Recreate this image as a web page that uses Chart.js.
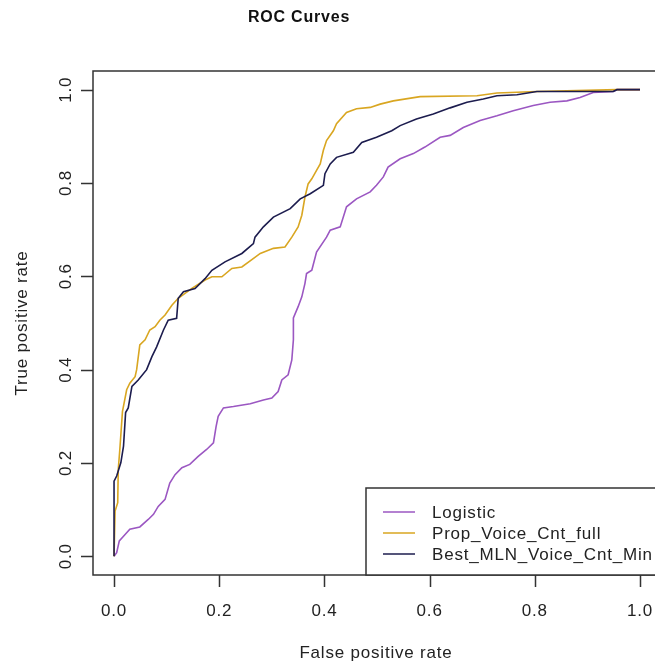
<!DOCTYPE html>
<html>
<head>
<meta charset="utf-8">
<script src="https://cdn.jsdelivr.net/npm/chart.js@4.4.0/dist/chart.umd.min.js"></script>
<style>
  html, body { margin: 0; padding: 0; background: #fff; }
  #wrap { width: 655px; height: 665px; }
</style>
</head>
<body>
<div id="wrap"><canvas id="rocChart" width="655" height="665"></canvas></div>
<script>
/* ROC curves, R base-graphics look */
const seriesNames = ['Logistic', 'Prop_Voice_Cnt_full', 'Best_MLN_Voice_Cnt_Min'];
const seriesColors = ['#9b57c2', '#d9a621', '#1c1c4e'];

const logisticFpr = [0, 0.005, 0.010, 0.018, 0.030, 0.049, 0.065, 0.075, 0.084, 0.097, 0.106, 0.116, 0.129, 0.144, 0.160,
  0.176, 0.189, 0.194, 0.198, 0.208, 0.227, 0.259, 0.284, 0.300, 0.312, 0.319, 0.331, 0.338, 0.341, 0.341, 0.350,
  0.357, 0.363, 0.366, 0.376, 0.385, 0.404, 0.411, 0.430, 0.442, 0.461, 0.487, 0.499, 0.512, 0.521, 0.544, 0.569,
  0.591, 0.620, 0.639, 0.664, 0.696, 0.728, 0.759, 0.797, 0.829, 0.861, 0.886, 0.911, 0.949, 0.956, 1.0];
const logisticTpr = [0, 0.008, 0.033, 0.043, 0.058, 0.063, 0.079, 0.090, 0.107, 0.122, 0.157, 0.175, 0.190, 0.197, 0.214,
  0.229, 0.243, 0.278, 0.300, 0.318, 0.321, 0.327, 0.335, 0.339, 0.353, 0.378, 0.389, 0.421, 0.464, 0.511, 0.535,
  0.556, 0.585, 0.606, 0.613, 0.652, 0.684, 0.699, 0.706, 0.749, 0.766, 0.781, 0.795, 0.813, 0.834, 0.852, 0.863,
  0.877, 0.898, 0.902, 0.919, 0.934, 0.944, 0.955, 0.966, 0.973, 0.976, 0.983, 0.994, 0.996, 1.0, 1.0];

const propFpr = [0, 0.002, 0.007, 0.008, 0.011, 0.016, 0.024, 0.030, 0.040, 0.043, 0.049, 0.059, 0.068, 0.078, 0.087,
  0.097, 0.110, 0.122, 0.148, 0.173, 0.186, 0.205, 0.224, 0.243, 0.262, 0.278, 0.303, 0.325, 0.338, 0.350, 0.357,
  0.363, 0.369, 0.376, 0.385, 0.392, 0.398, 0.404, 0.417, 0.423, 0.442, 0.461, 0.487, 0.506, 0.531, 0.582, 0.690,
  0.728, 0.804, 0.956, 1.0];
const propTpr = [0, 0.097, 0.115, 0.186, 0.229, 0.310, 0.357, 0.371, 0.385, 0.400, 0.453, 0.464, 0.485, 0.492, 0.506,
  0.517, 0.538, 0.553, 0.574, 0.592, 0.599, 0.599, 0.617, 0.620, 0.636, 0.649, 0.660, 0.663, 0.684, 0.706, 0.731,
  0.770, 0.798, 0.809, 0.827, 0.841, 0.870, 0.891, 0.912, 0.927, 0.951, 0.959, 0.962, 0.969, 0.976, 0.985, 0.987,
  0.993, 0.996, 1.0, 1.0];

const mlnFpr = [0, 0, 0.005, 0.013, 0.018, 0.022, 0.027, 0.034, 0.046, 0.062, 0.072, 0.081, 0.094, 0.103, 0.119,
  0.122, 0.132, 0.154, 0.173, 0.186, 0.211, 0.243, 0.265, 0.268, 0.284, 0.303, 0.335, 0.354, 0.373, 0.398, 0.401,
  0.411, 0.423, 0.455, 0.471, 0.499, 0.528, 0.544, 0.575, 0.607, 0.639, 0.671, 0.702, 0.728, 0.766, 0.804, 0.949,
  0.956, 1.0];
const mlnTpr = [0, 0.161, 0.172, 0.201, 0.236, 0.308, 0.318, 0.364, 0.378, 0.400, 0.428, 0.449, 0.485, 0.506, 0.510,
  0.553, 0.567, 0.574, 0.595, 0.613, 0.631, 0.649, 0.670, 0.684, 0.706, 0.727, 0.745, 0.766, 0.777, 0.795, 0.820,
  0.841, 0.855, 0.866, 0.887, 0.898, 0.912, 0.923, 0.937, 0.948, 0.961, 0.973, 0.980, 0.987, 0.989, 0.996, 0.996,
  1.0, 1.0];

const xTicks = [0, 0.2, 0.4, 0.6, 0.8, 1.0];
const yTicks = [0, 0.2, 0.4, 0.6, 0.8, 1.0];
const titleText = 'ROC Curves';
const xTitle = 'False positive rate';
const yTitle = 'True positive rate';

const FONT = "17px 'Liberation Sans', Arial, sans-serif";

function pts(xs, ys) { return xs.map((x, i) => ({ x: x, y: ys[i] })); }

// draws the R style frame, ticks, labels and legend on top of the chart
const rFrame = {
  id: 'rFrame',
  afterDraw(chart) {
    const ctx = chart.ctx, a = chart.chartArea;
    const xs = chart.scales.x, ys = chart.scales.y;
    ctx.save();
    ctx.strokeStyle = '#333';
    ctx.lineWidth = 1.5;
    ctx.strokeRect(a.left, a.top, a.right - a.left + 10, a.bottom - a.top);

    ctx.fillStyle = '#222';
    ctx.font = FONT;
    ctx.letterSpacing = '0.8px';
    ctx.textAlign = 'center';
    ctx.textBaseline = 'middle';

    ctx.beginPath();
    xTicks.forEach(v => {
      const px = Math.round(xs.getPixelForValue(v)) + 0.5;
      ctx.moveTo(px, a.bottom); ctx.lineTo(px, a.bottom + 12);
    });
    yTicks.forEach(v => {
      const py = Math.round(ys.getPixelForValue(v)) + 0.5;
      ctx.moveTo(a.left, py); ctx.lineTo(a.left - 12, py);
    });
    ctx.stroke();

    xTicks.forEach(v => ctx.fillText(v.toFixed(1), xs.getPixelForValue(v), 611));
    yTicks.forEach(v => {
      ctx.save();
      ctx.translate(66, ys.getPixelForValue(v));
      ctx.rotate(-Math.PI / 2);
      ctx.fillText(v.toFixed(1), 0, 0);
      ctx.restore();
    });

    ctx.fillText(xTitle, 376, 653);
    ctx.save();
    ctx.translate(22, (a.top + a.bottom) / 2);
    ctx.rotate(-Math.PI / 2);
    ctx.fillText(yTitle, 0, 0);
    ctx.restore();

    ctx.font = "bold 16px 'Liberation Sans', Arial, sans-serif";
    ctx.fillStyle = '#111';
    ctx.fillText(titleText, 299, 18);

    // legend box
    ctx.font = FONT;
    ctx.fillStyle = '#fff';
    ctx.fillRect(366, 488, 300, a.bottom - 488);
    ctx.strokeStyle = '#333';
    ctx.strokeRect(366, 488, 300, a.bottom - 488);
    ctx.textAlign = 'left';
    ctx.lineWidth = 1.5;
    [512, 533, 554].forEach((ry, i) => {
      ctx.strokeStyle = seriesColors[i];
      ctx.beginPath(); ctx.moveTo(383, ry); ctx.lineTo(415, ry); ctx.stroke();
      ctx.fillStyle = '#222';
      ctx.fillText(seriesNames[i], 432, ry + 1);
    });
    ctx.restore();
  }
};

const line = (label, data, color, order) => ({
  label: label, data: data, borderColor: color, backgroundColor: color,
  borderWidth: 1.6, pointRadius: 0, tension: 0, fill: false, order: order
});

new Chart(document.getElementById('rocChart'), {
  type: 'line',
  data: {
    datasets: [
      line(seriesNames[0], pts(logisticFpr, logisticTpr), seriesColors[0], 3),
      line(seriesNames[1], pts(propFpr, propTpr), seriesColors[1], 2),
      line(seriesNames[2], pts(mlnFpr, mlnTpr), seriesColors[2], 1)
    ]
  },
  options: {
    responsive: false,
    devicePixelRatio: 1,
    animation: false,
    layout: { padding: { left: 93, top: 71, right: 0, bottom: 90 } },
    plugins: { legend: { display: false }, tooltip: { enabled: false } },
    scales: {
      x: { type: 'linear', min: -0.04, max: 1.0285, display: false },
      y: { type: 'linear', min: -0.04, max: 1.04, display: false }
    }
  },
  plugins: [rFrame]
});
</script>
</body>
</html>
